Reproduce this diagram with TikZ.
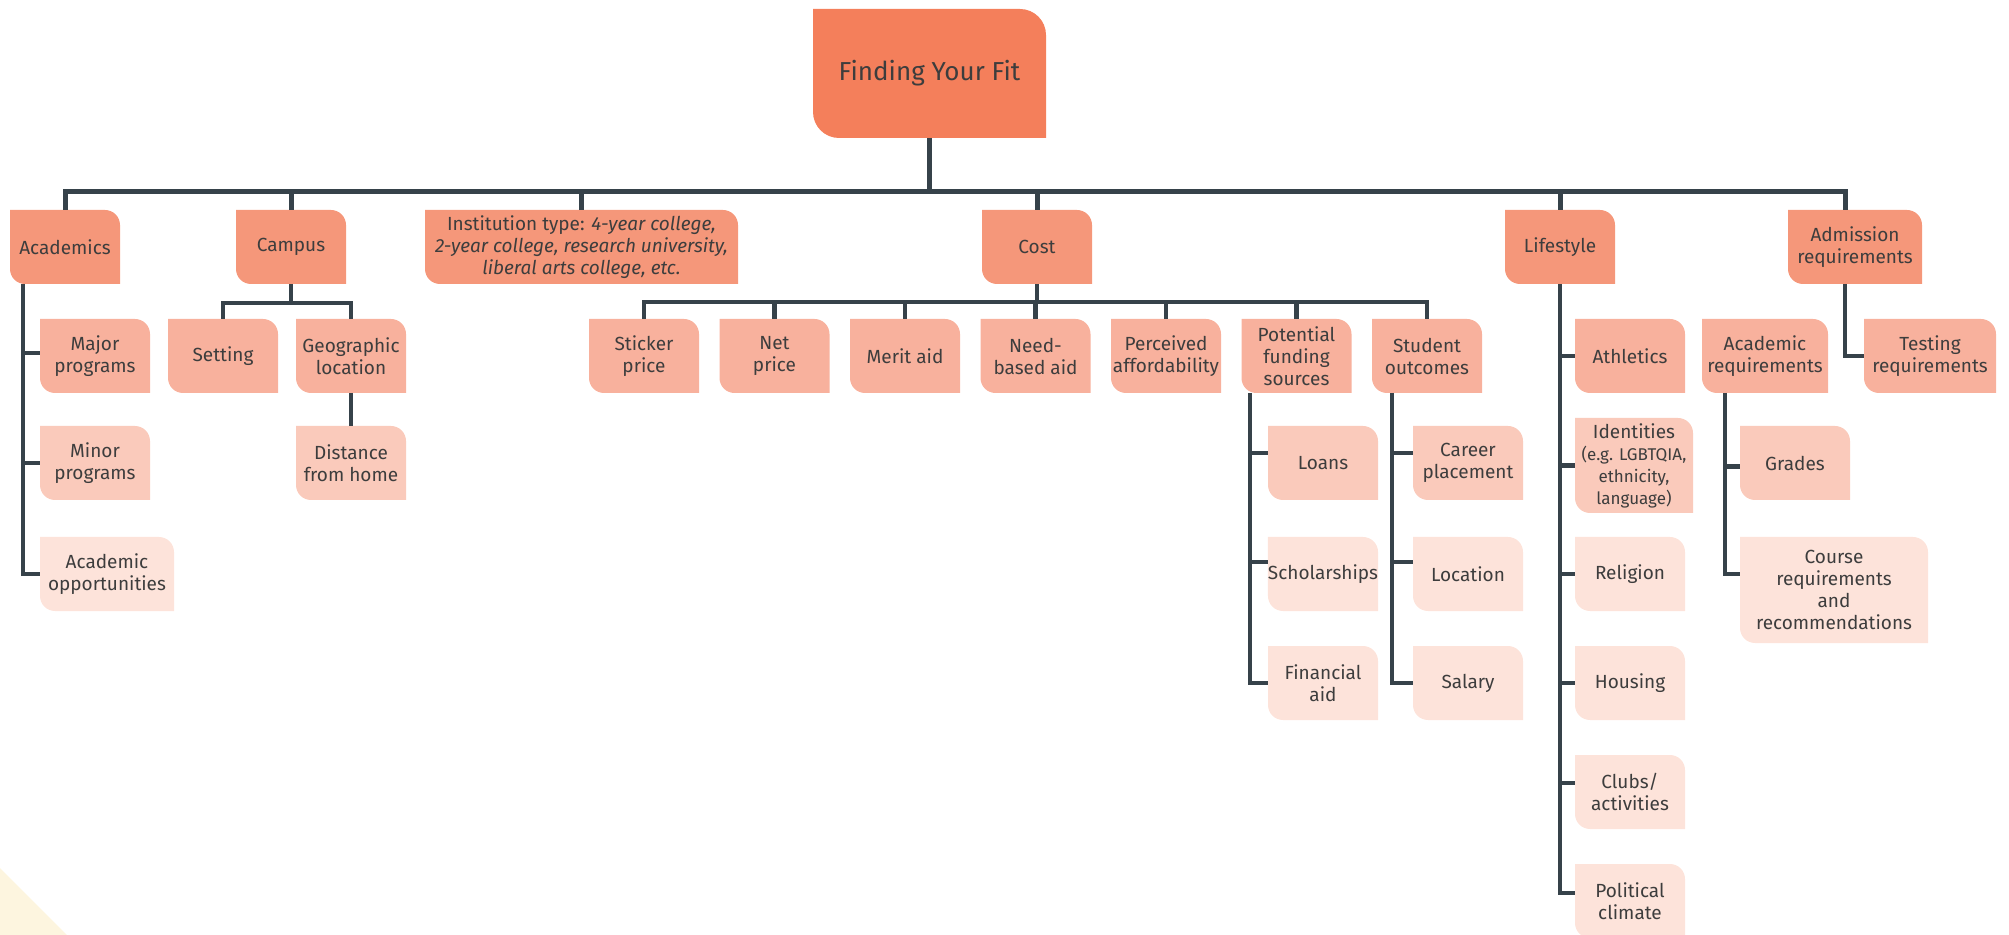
\documentclass[tikz,border=0pt]{standalone}
\usepackage{fontspec}
\setmainfont{Fira Sans}
\usepackage{tikz}
\usetikzlibrary{positioning}

\definecolor{lv0}{HTML}{F47F5B}
\definecolor{lv1}{HTML}{F5977A}
\definecolor{lv2}{HTML}{F8B19D}
\definecolor{lv3}{HTML}{FACABB}
\definecolor{lv4}{HTML}{FDE3DA}
\definecolor{ink}{HTML}{3D3D3D}
\definecolor{wire}{HTML}{36424A}
\definecolor{cream}{HTML}{FDF5DF}

\newcommand{\smallid}{\fontsize{8.5}{11}\selectfont}

\begin{document}
\begin{tikzpicture}[
            leaf radius/.store in = \leafrad, % corner size
            leaf radius = 7.5pt,
            leaf/.style = {
                inner sep = 0pt, outer sep = 0pt, align = center, text = ink,
                font = \fontsize{9.5}{11}\selectfont,
                minimum width = 55pt, minimum height = 37pt,
                path picture = {
                    \fill[#1] (path picture bounding box.south east)
                        -- ([yshift=-\leafrad]path picture bounding box.north east)
                        arc[start angle=0, end angle=90, radius=\leafrad]
                        -- (path picture bounding box.north west)
                        -- ([yshift=\leafrad]path picture bounding box.south west)
                        arc[start angle=180, end angle=270, radius=\leafrad]
                        -- cycle;
                }
            },
            bus/.style = {draw = wire, line width = 2.5pt}, % main line
            link/.style = {draw = wire, line width = 2.2pt} % branch lines
        ]

        \useasboundingbox (0,0) rectangle (1004.5pt,-467.5pt);
        \fill[cream] (0,-434pt) -- (0,-467.5pt) -- (33.5pt,-467.5pt) -- cycle;

        \node[leaf=lv0, leaf radius=13pt, minimum width=116.5pt, minimum height=64.5pt,
              font=\fontsize{13}{15}\selectfont] (F) at (464.75pt,-36.75pt) {Finding Your Fit};

        % first row
        \node[leaf=lv1, anchor=north west] (A) at (5pt,-105pt) {Academics};
        \node[leaf=lv1] (C) [right=58pt of A] {Campus};
        \node[leaf=lv1, minimum width=156.5pt] (IT) [right=39.5pt of C] {Institution type: \textit{4-year college,}\\ \textit{2-year college, research university,}\\ \textit{liberal arts college, etc.}};
        \node[leaf=lv1] (CO) [right=122pt of IT] {Cost};
        \node[leaf=lv1] (L) [right=206.5pt of CO] {Lifestyle};
        \node[leaf=lv1, minimum width=67pt] (AR) [right=86.5pt of L] {Admission\\requirements};

        % academics
        \node[leaf=lv2] (AM) [below right=17.5pt and 15pt of A.south west] {Major\\programs};
        \node[leaf=lv3] (AI) [below=16.5pt of AM] {Minor\\programs};
        \node[leaf=lv4, minimum width=67pt] (AO) [below right=18.5pt and 0pt of AI.south west] {Academic\\opportunities};

        % campus
        \node[leaf=lv2] (CS) [below left=17.5pt and 6.5pt of C.south] {Setting};
        \node[leaf=lv2] (CG) [right=9pt of CS] {Geographic\\location};
        \node[leaf=lv3] (CD) [below=16.5pt of CG] {Distance\\from home};

        % cost
        \node[leaf=lv2] (CP) [below left=17.5pt and 169pt of CO.south] {Sticker\\price};
        \node[leaf=lv2] (CN) [right=10.25pt of CP] {Net\\price};
        \node[leaf=lv2] (CM) [right=10.25pt of CN] {Merit aid};
        \node[leaf=lv2] (CB) [right=10.25pt of CM] {Need-\\based aid};
        \node[leaf=lv2] (CA) [right=10.25pt of CB] {Perceived\\affordability};
        \node[leaf=lv2] (CF) [right=10.25pt of CA] {Potential\\funding\\sources};
        \node[leaf=lv2] (CU) [right=10.25pt of CF] {Student\\outcomes};

        \node[leaf=lv3] (CFL) [below right=16.5pt and 13.25pt of CF.south west] {Loans};
        \node[leaf=lv4] (CFS) [below=18.5pt of CFL] {Scholarships};
        \node[leaf=lv4] (CFA) [below=17.5pt of CFS] {Financial\\aid};

        \node[leaf=lv3] (CUC) [below right=16.5pt and 20.5pt of CU.south west] {Career\\placement};
        \node[leaf=lv4] (CUL) [below=18.5pt of CUC] {Location};
        \node[leaf=lv4] (CUS) [below=17.5pt of CUL] {Salary};

        % lifestyle
        \node[leaf=lv2] (LA) [below right=17.5pt and 35pt of L.south west] {Athletics};
        \node[leaf=lv3, minimum width=59pt, minimum height=47.5pt] (LI) [below right=12.5pt and 0pt of LA.south west]
            {Identities\\{\smallid (e.g. LGBTQIA,}\\{\smallid ethnicity,}\\{\smallid language)}};
        \node[leaf=lv4] (LR) [below right=12pt and 0pt of LI.south west] {Religion};
        \node[leaf=lv4] (LH) [below=17.5pt of LR] {Housing};
        \node[leaf=lv4] (LC) [below=17.5pt of LH] {Clubs/\\activities};
        \node[leaf=lv4] (LP) [below=17.5pt of LC] {Political\\climate};

        % admission
        \node[leaf=lv2, minimum width=66pt] (AT) [below right=17.5pt and 4.5pt of AR.south] {Testing\\requirements};
        \node[leaf=lv2, minimum width=63pt] (AA) [below left=17.5pt and 13.5pt of AR.south] {Academic\\requirements};
        \node[leaf=lv3] (AG) [below right=16.5pt and 19pt of AA.south west] {Grades};
        \node[leaf=lv4, minimum width=94pt, minimum height=53pt] (AC) [below right=18.5pt and 0pt of AG.south west]
            {Course\\requirements\\and\\recommendations};

        \path[bus]
            (F.south) -- ++(0,-27pt) -| (A.north)
            (F.south) -- ++(0,-27pt) -| (C.north)
            (F.south) -- ++(0,-27pt) -| (IT.north)
            (F.south) -- ++(0,-27pt) -| (CO.north)
            (F.south) -- ++(0,-27pt) -| (L.north)
            (F.south) -- ++(0,-27pt) -| ([xshift=-5pt]AR.north);

        \path[link]
            ([xshift=6.5pt]A.south west) |- ([yshift=1.5pt]AM.west)
            ([xshift=6.5pt]A.south west) |- (AI.west)
            ([xshift=6.5pt]A.south west) |- (AO.west)

            (C.south) -- ++(0,-9.5pt) -| (CS.north)
            (C.south) -- ++(0,-9.5pt) -| (CG.north)
            (CG.south) -- (CD.north)

            (CO.south) -- ++(0,-9pt) -| (CP.north)
            (CO.south) -- ++(0,-9pt) -| (CN.north)
            (CO.south) -- ++(0,-9pt) -| (CM.north)
            (CO.south) -- ++(0,-9pt) -| (CB.north)
            (CO.south) -- ++(0,-9pt) -| (CA.north)
            (CO.south) -- ++(0,-9pt) -| (CF.north)
            (CO.south) -- ++(0,-9pt) -| (CU.north)

            ([xshift=4.25pt]CF.south west) |- ([yshift=5pt]CFL.west)
            ([xshift=4.25pt]CF.south west) |- ([yshift=6pt]CFS.west)
            ([xshift=4.25pt]CF.south west) |- (CFA.west)

            ([xshift=10pt]CU.south west) |- ([yshift=5pt]CUC.west)
            ([xshift=10pt]CU.south west) |- ([yshift=6pt]CUL.west)
            ([xshift=10pt]CU.south west) |- (CUS.west)

            (L.south) |- (LA.west)
            (L.south) |- (LI.west)
            (L.south) |- (LR.west)
            (L.south) |- (LH.west)
            (L.south) |- ([yshift=4.5pt]LC.west)
            (L.south) |- ([yshift=4pt]LP.west)

            ([xshift=-5pt]AR.south) |- (AT.west)
            ([xshift=11.5pt]AA.south west) |- ([yshift=-1.75pt]AG.west)
            ([xshift=11.5pt]AA.south west) |- ([yshift=-18.5pt]AC.north west);

  \end{tikzpicture}
\end{document}
